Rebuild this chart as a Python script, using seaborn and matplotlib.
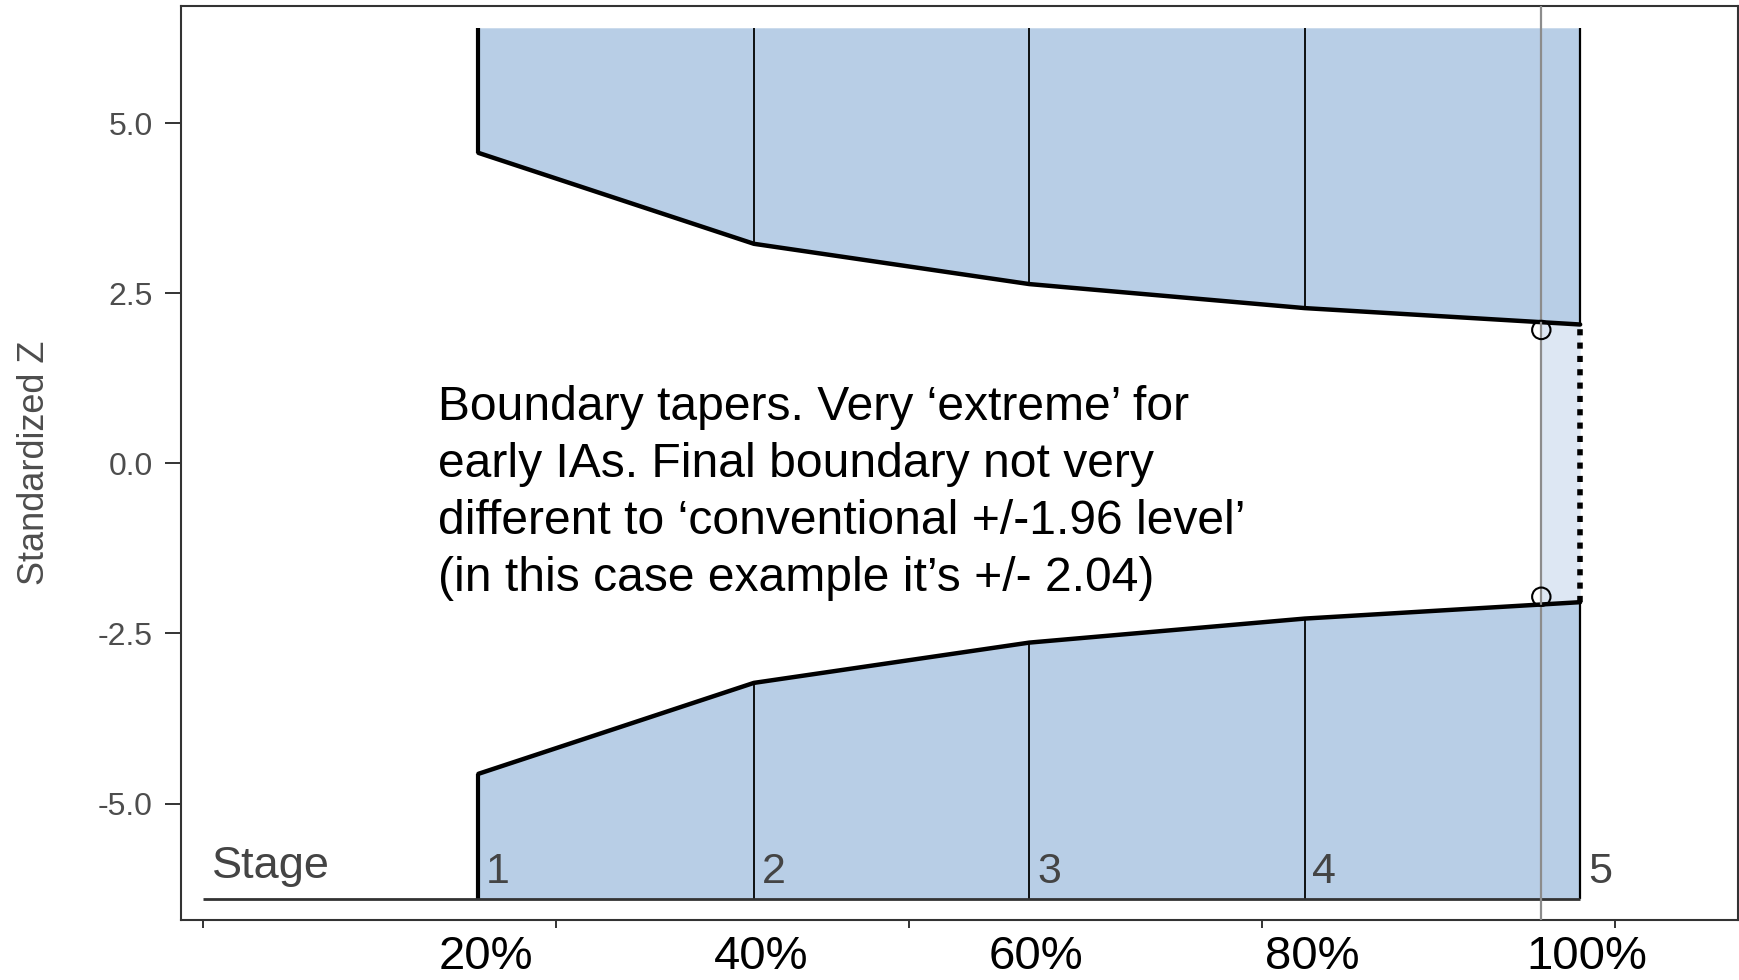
import numpy as np
import pandas as pd
import matplotlib
matplotlib.use("Agg")
import matplotlib.pyplot as plt
import matplotlib.transforms as mtransforms
import seaborn as sns

# ---- data ----
sample_size = [78, 156, 234, 312, 390]          # analysis times (x scale)
upper_z = [4.562, 3.226, 2.634, 2.281, 2.040]   # upper efficacy boundary
lower_z = [-4.562, -3.226, -2.634, -2.281, -2.040]
stage_labels = ["1", "2", "3", "4", "5"]
pct_labels = ["20%", "40%", "60%", "80%", "100%"]
x_ticks = [0, 100, 200, 300, 400]
y_ticks = [-5.0, -2.5, 0.0, 2.5, 5.0]
observed_n = 379
observed_crit = [1.96, -1.96]
region_edge = 6.4
annotation = ("Boundary tapers. Very \u2018extreme\u2019 for\n"
              "early IAs. Final boundary not very\n"
              "different to \u2018conventional +/-1.96 level\u2019\n"
              "(in this case example it\u2019s +/- 2.04)")

sns.set_theme(style="ticks")
plt.rcParams["font.family"] = ["Liberation Sans", "DejaVu Sans"]

FILL = "#b8cee6"
LIGHT = "#dde7f3"
DARK = "#333333"
TXT = "#4d4d4d"

fig = plt.figure(figsize=(17.4, 9.8), dpi=100)
W, H = 1740, 980
ax = fig.add_axes([181 / W, 1 - 920 / H, (1738 - 181) / W, (920 - 6) / H])

df = pd.DataFrame({"n": sample_size, "upper": upper_z, "lower": lower_z})

# shaded rejection regions
ax.fill_between(df["n"], df["upper"], region_edge, color=FILL, lw=0, zorder=1)
ax.fill_between(df["n"], -region_edge, df["lower"], color=FILL, lw=0, zorder=1)

# light region between observed n and final stage
xs = [observed_n, sample_size[-1]]
ax.fill_between(xs, np.interp(xs, sample_size, lower_z), np.interp(xs, sample_size, upper_z),
                color=LIGHT, lw=0, zorder=1)

# boundaries
sns.lineplot(data=df, x="n", y="upper", color="black", lw=3.2, ax=ax, zorder=4)
sns.lineplot(data=df, x="n", y="lower", color="black", lw=3.2, ax=ax, zorder=4)

# stage vertical lines
for i, (n, u, l) in enumerate(zip(sample_size, upper_z, lower_z)):
    lw = 3.0 if i == 0 else (1.6 if i == len(sample_size) - 1 else 1.3)
    ax.vlines(n, u, region_edge, color="black", lw=lw, zorder=3)
    ax.vlines(n, -region_edge, l, color="black", lw=lw, zorder=3)

# dotted final segment
ax.vlines(sample_size[-1], lower_z[-1], upper_z[-1], color="black", lw=4.0,
          linestyles=(0, (1.1, 1.3)), zorder=4)

# stage baseline
ax.hlines(-region_edge, 0, sample_size[-1], color=DARK, lw=2.0, zorder=3)

# observed line and critical points
ax.axvline(observed_n, color="#8c8c8c", lw=1.6, zorder=5)
sns.scatterplot(x=[observed_n] * 2, y=observed_crit, marker="o", s=175,
                facecolor="none", edgecolor="black", linewidth=1.5, ax=ax, zorder=6)

# stage texts
ax.text(2.5, -6.10, "Stage", fontsize=32.5, color="#444444", ha="left", va="baseline", zorder=7)
for n, lab in zip(sample_size, stage_labels):
    ax.text(n + 2.2, -6.17, lab, fontsize=31, color="#444444", ha="left", va="baseline", zorder=7)

# percent labels under the axis
btrans = mtransforms.blended_transform_factory(ax.transData, fig.transFigure)
for n, lab in zip(sample_size, pct_labels):
    ax.text(n + 2, 0.001, lab, fontsize=34, color="black", ha="center", va="bottom",
            transform=btrans, clip_on=False)

# annotation
ax.text(438 / W, 1 - 385 / H, annotation, transform=fig.transFigure, fontsize=34.6,
        color="black", ha="left", va="top", linespacing=1.34)

ax.set_xlim(-6.23, 434.7)
ax.set_ylim(-6.71, 6.72)
ax.set_xticks(x_ticks)
ax.set_xticklabels([""] * len(x_ticks))
ax.set_yticks(y_ticks)
ax.set_yticklabels([f"{v:.1f}" for v in y_ticks])
ax.tick_params(axis="y", direction="out", length=11.5, width=1.4, color=DARK,
               labelsize=23, labelcolor=TXT, pad=9)
ax.tick_params(axis="x", direction="out", length=6, width=1.4, color=DARK)
ax.set_xlabel("")
ax.set_ylabel("Standardized Z", fontsize=26, color=TXT)
ax.yaxis.set_label_coords(-0.083, 0.5)
for s in ax.spines.values():
    s.set_visible(True)
    s.set_color(DARK)
    s.set_linewidth(1.5)
ax.grid(False)

fig.savefig("out.png", dpi=100)
